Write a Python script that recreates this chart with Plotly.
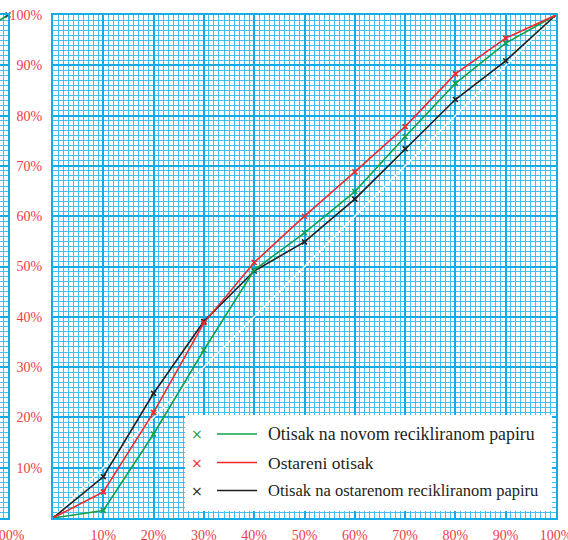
import plotly.graph_objects as go

# ---- data ----
x_vals = [0, 10, 20, 30, 40, 50, 60, 70, 80, 90, 100]
green_y = [0, 1.5, 16.7, 33.4, 49.3, 56.7, 64.9, 75.8, 86.4, 94.4, 100]
red_y = [0, 5.2, 21.0, 38.8, 50.8, 60.0, 68.8, 77.8, 88.3, 95.4, 100]
black_y = [0, 8.2, 24.8, 39.1, 49.1, 54.9, 63.4, 73.4, 83.2, 90.9, 100]
diag_x = [0, 100]
diag_y = [0, 100]
# fragment of neighbouring chart (cropped at left edge)
left_x = [90, 100]
left_y = [93.8, 100]

tick_vals = [10, 20, 30, 40, 50, 60, 70, 80, 90, 100]
tick_text = ["10%", "20%", "30%", "40%", "50%", "60%", "70%", "80%", "90%", "100%"]

series_names = ["Otisak na novom recikliranom papiru", "Ostareni otisak",
                "Otisak na ostarenom recikliranom papiru"]
GREEN, RED, BLACK = "#12a14b", "#ee2a2f", "#231f20"

W, H = 568, 540
ML, MR, MT, MB = 0, 12, 15, 22
PW, PH = W - ML - MR, H - MT - MB
PLOT_L = 53

def px(x):
    return (x - ML) / PW

def py(y):
    return (H - MB - y) / PH

MINOR_C = "#45bff0"
MAJOR_C = "#16aae6"
LABEL_C = "#ee3b45"
SERIF = "Times New Roman, Liberation Serif, DejaVu Serif, serif"

fig = go.Figure()

fig.add_trace(go.Scatter(x=diag_x, y=diag_y, mode="lines",
                         line=dict(color="white", width=1.5),
                         showlegend=False, hoverinfo="skip"))

for yv, col, name in [(black_y, BLACK, series_names[2]),
                      (green_y, GREEN, series_names[0]),
                      (red_y, RED, series_names[1])]:
    fig.add_trace(go.Scatter(x=x_vals, y=yv, mode="lines+markers", name=name,
                             line=dict(color=col, width=1.6),
                             marker=dict(symbol="x-thin", size=5,
                                         line=dict(color=col, width=1.6)),
                             showlegend=False))

fig.add_trace(go.Scatter(x=left_x, y=left_y, mode="lines+markers",
                         xaxis="x2", yaxis="y2",
                         line=dict(color=GREEN, width=1.6),
                         marker=dict(symbol="x-thin", size=5,
                                     line=dict(color="#333", width=1.6)),
                         showlegend=False, cliponaxis=False))

axis_common = dict(
    showgrid=True, gridcolor=MAJOR_C, gridwidth=2,
    minor=dict(dtick=1, showgrid=True, gridcolor=MINOR_C, gridwidth=1),
    showline=True, linecolor=MAJOR_C, linewidth=2, mirror=True,
    zeroline=False, ticks="", automargin=False,
    ticklabeloverflow="allow",
    tickfont=dict(family=SERIF, size=14, color=LABEL_C),
)

fig.update_layout(
    width=W, height=H,
    margin=dict(l=ML, r=MR, t=MT, b=MB, autoexpand=False),
    paper_bgcolor="white", plot_bgcolor="white",
    showlegend=False,
    font=dict(family=SERIF),
    xaxis=dict(domain=[px(PLOT_L), 1], range=[0, 100], dtick=10,
               tickvals=tick_vals, ticktext=tick_text,
               ticklabelstandoff=3, **axis_common),
    yaxis=dict(domain=[0, 1], range=[0, 100], dtick=10,
               tickvals=tick_vals, ticktext=tick_text,
               ticklabelstandoff=6, **axis_common),
    xaxis2=dict(domain=[0, px(8)], range=[98.4, 100], anchor="y2",
                tickvals=[100], ticktext=["100%"], ticklabelstandoff=3,
                **axis_common),
    yaxis2=dict(domain=[0, 1], range=[0, 100], anchor="x2",
                showticklabels=False, dtick=10, **axis_common),
)

# manual legend box
fig.add_shape(type="rect", xref="paper", yref="paper",
              x0=px(185), x1=px(552), y0=py(511), y1=py(415),
              fillcolor="white", line=dict(width=0), layer="above")

rows_y = [434, 462.5, 490.5]
text_sizes = [17.8, 17.5, 16.5]
for (name, col), ry, ts in zip(zip(series_names, [GREEN, RED, BLACK]), rows_y, text_sizes):
    fig.add_annotation(x=px(197), y=py(ry), xref="paper", yref="paper",
                       text="×", showarrow=False,
                       font=dict(family="DejaVu Sans", size=14, color=col),
                       xanchor="center", yanchor="middle")
    fig.add_shape(type="line", xref="paper", yref="paper",
                  x0=px(217), x1=px(257), y0=py(ry), y1=py(ry),
                  line=dict(color=col, width=1.6), layer="above")
    fig.add_annotation(x=px(266), y=py(ry), xref="paper", yref="paper",
                       text=name, showarrow=False,
                       font=dict(family=SERIF, size=ts, color="#231f20"),
                       xanchor="left", yanchor="middle")

fig.write_html("out.html",
               config={"displayModeBar": False},
               post_script="document.body.style.margin='0';"
                           "document.body.style.overflow='hidden';")
